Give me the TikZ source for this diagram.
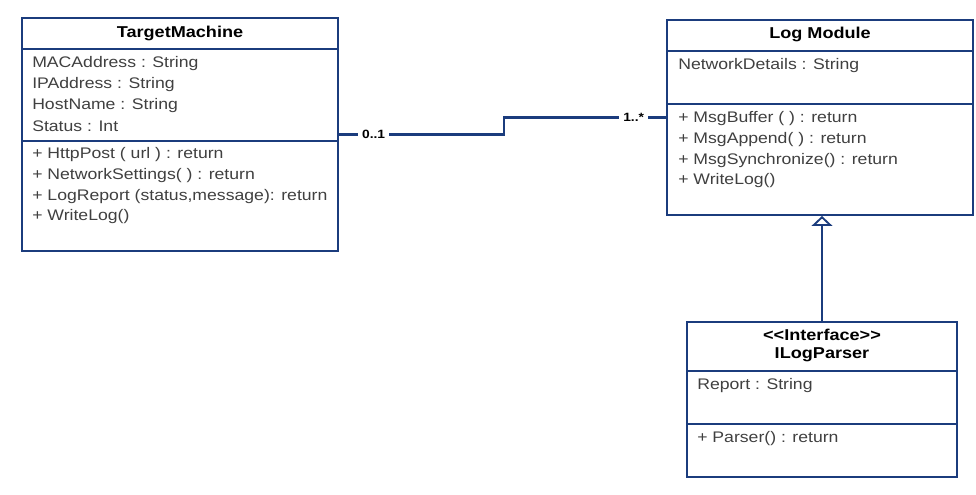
\documentclass[tikz,border=0pt]{standalone}
\usepackage{fontspec}
\setmainfont{Liberation Sans}
\newfontfamily\umlfont[FakeStretch=1.15]{Liberation Sans}
\usetikzlibrary{arrows.meta}
\definecolor{umlblue}{RGB}{27,60,125}
\definecolor{membergray}{RGB}{64,64,64}
\tikzset{
  classbox/.style={draw=umlblue, line width=1.4pt, fill=white, inner sep=0pt},
  classname/.style={font=\umlfont\bfseries\fontsize{11.8}{13}\selectfont, text=black, inner sep=0pt},
  member/.style={anchor=west, font=\umlfont\fontsize{11.5}{13}\selectfont, text=membergray, inner sep=0pt},
  mult/.style={font=\umlfont\bfseries\fontsize{9}{10}\selectfont, fill=white, inner sep=3pt},
  link/.style={draw=umlblue, line width=1.4pt},
  relation/.style={draw=umlblue, line width=1.7pt},
}
\begin{document}
\begin{tikzpicture}[x=0.75pt, y=-0.75pt]
			\useasboundingbox (0,0) rectangle (976,494);
			% classes
			\node[classbox, minimum width=237pt, minimum height=174.75pt] (tm) at (180,134.5) {};
			\node[classbox, minimum width=229.5pt, minimum height=146.25pt] (lm) at (820,117.5) {};
			\node[classbox, minimum width=202.5pt, minimum height=116.25pt] (ilp) at (822,399.5) {};
			% compartments
			\draw[link] (tm.west |- 0,49) -- (tm.east |- 0,49);
			\draw[link] (tm.west |- 0,141) -- (tm.east |- 0,141);
			\draw[link] (lm.west |- 0,51) -- (lm.east |- 0,51);
			\draw[link] (lm.west |- 0,104) -- (lm.east |- 0,104);
			\draw[link] (ilp.west |- 0,371) -- (ilp.east |- 0,371);
			\draw[link] (ilp.west |- 0,424) -- (ilp.east |- 0,424);
			% names
			\node[classname] (tmname) at (180,33) {TargetMachine};
			\node[classname] (lmname) at (820,34) {Log Module};
			\node[classname] (ilpstereo) at (822,335) {<{}<Interface>{}>};
			\node[classname] (ilpname) at (822,355) {ILogParser};
			% members
			\foreach \t [count=\i] in {MACAddress : String, IPAddress : String, HostName : String, Status : Int}
				\node[member] (tma\i) at (32,{64+20.6*(\i-1)}) {\t};
			\foreach \t [count=\i] in {+ HttpPost ( url ) : return, + NetworkSettings( ) : return, {+ LogReport (status,message): return}, + WriteLog()}
				\node[member] (tmm\i) at (32,{155+20.6*(\i-1)}) {\t};
			\node[member] (lma1) at (678,66) {NetworkDetails : String};
			\foreach \t [count=\i] in {+ MsgBuffer ( ) : return, + MsgAppend( ) : return, + MsgSynchronize() : return, + WriteLog()}
				\node[member] (lmm\i) at (678,{119+20.6*(\i-1)}) {\t};
			\node[member] (ilpa1) at (697,386) {Report : String};
			\node[member] (ilpm1) at (697,439) {+ Parser() : return};
			% relations
			\draw[relation] (tm.east) -- node[mult, pos=0.21]{0..1} ++(165,0) |- node[mult, pos=0.9]{1..*} (lm.west);
			\draw[relation, -{Triangle[open, width=15.5pt, length=7.5pt, fill=white, line width=1.4pt]}] (ilp.north) -- (ilp.north |- lm.south);
		\end{tikzpicture}
\end{document}
